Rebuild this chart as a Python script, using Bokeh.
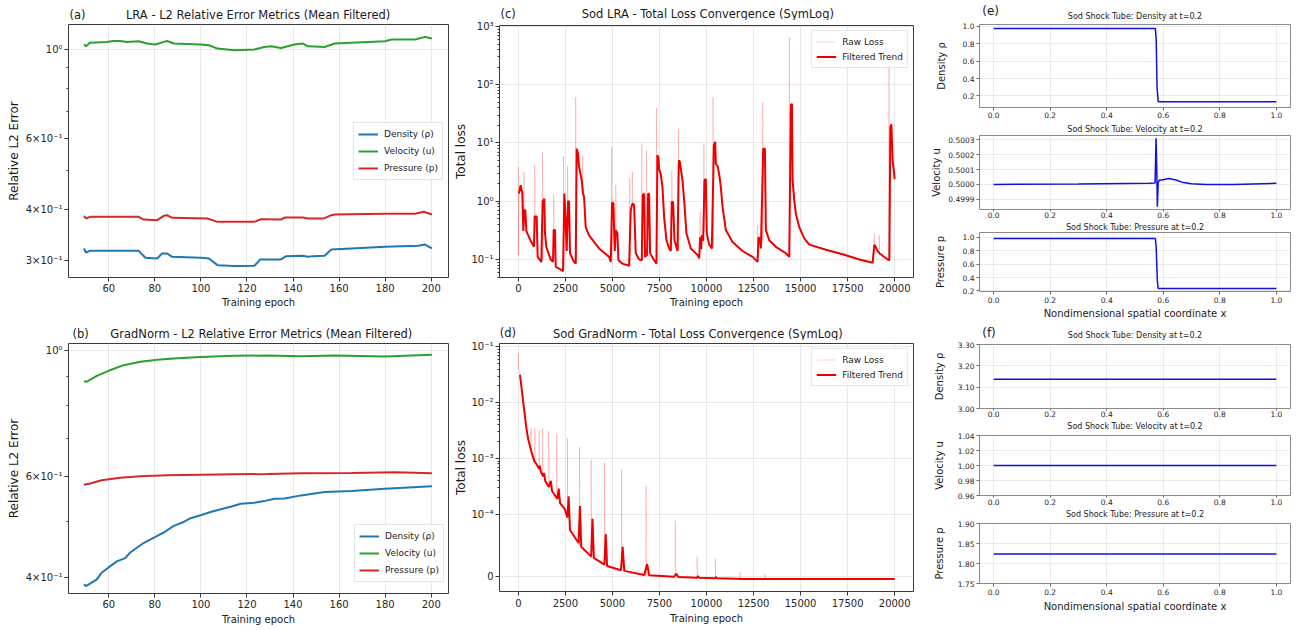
import numpy as np
from bokeh.plotting import figure
from bokeh.layouts import row, column
from bokeh.models import (Range1d, FixedTicker, Label, Legend, LegendItem,
                          CustomJSTickFormatter)
from bokeh.embed import file_html
from bokeh.resources import INLINE

FONT = "DejaVu Sans"

# ---------------- (a) LRA - relative L2 errors ----------------
a_rho_ep = [49.2, 50.1, 51.8, 60.0, 73.0, 75.9, 81.0, 83.1, 85.3, 87.5, 99.9, 103.5, 107.2, 114.4,
            123.2, 125.8, 134.8, 137.0, 144.3, 146.5, 148.6, 153.7, 156.6, 165.4, 179.9, 194.5, 197.1, 200.3]
a_rho = [0.3207, 0.3134, 0.3164, 0.3164, 0.3164, 0.3041, 0.3030, 0.3116, 0.3116, 0.3058, 0.3041, 0.3030,
         0.2916, 0.2900, 0.2905, 0.3013, 0.3013, 0.3070, 0.3076, 0.3058, 0.3070, 0.3076, 0.3189, 0.3207,
         0.3237, 0.3256, 0.3282, 0.3207]
a_u_ep = [49.2, 50.1, 51.8, 59.1, 62.0, 64.9, 67.9, 73.0, 76.6, 80.2, 83.9, 85.3, 88.2, 99.9, 103.5,
          107.2, 114.4, 123.2, 127.5, 130.4, 134.8, 140.6, 144.3, 146.5, 153.7, 158.1, 179.9, 182.8,
          193.0, 197.4, 200.3]
a_u = [1.029, 1.019, 1.039, 1.0446, 1.0505, 1.0505, 1.0446, 1.0486, 1.035, 1.029, 1.045, 1.05, 1.035,
       1.029, 1.025, 1.0057, 0.996, 1.0, 1.015, 1.019, 1.0093, 1.029, 1.035, 1.019, 1.015, 1.035,
       1.0486, 1.0588, 1.0588, 1.075, 1.065]
a_p_ep = [49.2, 50.1, 51.8, 73.0, 75.1, 81.0, 83.9, 85.3, 87.5, 102.8, 107.2, 123.2, 126.1, 134.8,
          136.3, 144.3, 146.5, 152.3, 153.7, 156.6, 158.1, 179.9, 193.0, 196.7, 200.3]
a_p = [0.3866, 0.3807, 0.3844, 0.3844, 0.3785, 0.377, 0.3866, 0.388, 0.3821, 0.3807, 0.3735, 0.3735,
       0.3792, 0.3785, 0.3828, 0.3828, 0.3807, 0.3807, 0.3814, 0.388, 0.3895, 0.391, 0.391, 0.3955, 0.3895]

# ---------------- (b) GradNorm - relative L2 errors ----------------
b_rho_ep = [49.2, 50.1, 54.8, 56.9, 59.9, 63.5, 67.1, 69.3, 75.1, 81.0, 83.9, 88.2, 91.9, 95.5, 99.9,
            104.2, 108.6, 112.9, 117.3, 123.2, 127.5, 131.9, 136.3, 143.5, 153.7, 165.4, 179.9, 200.3]
b_rho = [0.3889, 0.3858, 0.3966, 0.4073, 0.4161, 0.4263, 0.4321, 0.4420, 0.4592, 0.4726, 0.4791, 0.4922,
         0.4988, 0.5076, 0.5137, 0.5205, 0.5261, 0.5317, 0.5381, 0.5403, 0.5439, 0.5490, 0.5498, 0.5566,
         0.5642, 0.5664, 0.5719, 0.5774]
b_u_ep = [49.2, 50.7, 54.8, 59.9, 66.4, 73.7, 81.0, 88.2, 99.9, 114.4, 129.0, 143.5, 158.1, 179.9, 200.3]
b_u = [0.8816, 0.882, 0.9022, 0.9206, 0.9418, 0.9546, 0.9624, 0.9674, 0.9729, 0.978, 0.9792, 0.9768,
       0.9792, 0.9755, 0.982]
b_p_ep = [49.2, 51.8, 56.9, 64.9, 73.7, 85.3, 99.9, 114.4, 129.0, 143.5, 165.4, 184.3, 200.3]
b_p = [0.5808, 0.5838, 0.5916, 0.5979, 0.6011, 0.6035, 0.6051, 0.606, 0.6068, 0.6084, 0.6093, 0.6109, 0.6084]

# ---------------- (c) Sod LRA - total loss ----------------
c_ep = [35, 124, 213, 266, 319, 372, 426, 479, 656, 833, 869, 975, 1028, 1223, 1294, 1383, 1418, 1489,
        1720, 1844, 1879, 1950, 1986, 2163, 2376, 2447, 2500, 2571, 2642, 2695, 2748, 2961, 3050, 3103,
        3174, 3227, 3369, 3440, 3493, 3581, 3759, 4291, 4823, 4911, 4982, 5053, 5124, 5177, 5266, 5319,
        5532, 5886, 5975, 6064, 6152, 6241, 6418, 6560, 6613, 6684, 6737, 6844, 6897, 6950, 7003, 7216,
        7340, 7393, 7447, 7482, 7571, 7660, 7748, 7872, 8014, 8103, 8156, 8227, 8298, 8458, 8528, 8582,
        8653, 8723, 8812, 8936, 9166, 9521, 9610, 9663, 9716, 9752, 9822, 9893, 9964, 10017, 10142,
        10283, 10390, 10461, 10497, 10603, 10674, 10762, 10851, 11028, 11383, 11915, 12447, 12713,
        12766, 12837, 12890, 13014, 13103, 13156, 13333, 13688, 14220, 14397, 14486, 14539, 14574,
        14663, 14752, 14929, 15195, 15461, 16347, 17234, 18121, 18830, 18918, 19007, 19095, 19184,
        19628, 19716, 19769, 19822, 19893, 20000]
c_trend = [1.35, 1.88, 1.35, 0.31, 0.70, 0.70, 0.31, 0.28, 0.21, 0.165, 0.55, 0.55, 0.111, 0.091, 1.0,
           1.1, 0.28, 0.165, 0.10, 0.091, 0.32, 0.32, 0.075, 0.070, 0.063, 1.35, 0.6, 0.14, 0.99, 1.0,
           0.128, 0.091, 0.085, 8.0, 6.6, 3.9, 2.3, 1.35, 1.2, 0.36, 0.26, 0.155, 0.111, 0.091, 0.95,
           0.92, 0.14, 0.32, 0.28, 0.097, 0.085, 0.078, 0.7, 0.92, 0.86, 0.128, 0.10, 0.097, 1.27, 1.35,
           0.111, 0.12, 1.35, 1.35, 0.128, 0.097, 0.085, 6.2, 5.5, 3.6, 2.9, 1.76, 0.53, 0.214, 0.155,
           0.14, 0.99, 0.95, 0.214, 0.14, 5.0, 4.8, 3.3, 2.3, 1.04, 0.28, 0.155, 0.12, 0.105, 0.24, 0.15,
           0.26, 0.21, 2.3, 2.4, 0.28, 0.18, 0.155, 9.0, 10.5, 4.4, 3.9, 2.9, 1.76, 0.8, 0.32, 0.2, 0.14,
           0.111, 0.091, 0.24, 0.23, 0.155, 8.0, 8.0, 0.32, 0.214, 0.165, 0.128, 0.111, 45, 47, 2.3,
           1.04, 0.6, 0.36, 0.23, 0.18, 0.147, 0.123, 0.10, 0.088, 0.18, 0.16, 0.14, 0.128, 0.10, 0.097,
           18.8, 21, 5.0, 2.4]
c_spike_ep = [0, 300, 870, 1280, 1880, 2400, 2620, 3050, 3420, 4960, 5180, 5920, 6060, 6560, 6810,
              7340, 8156, 8510, 9660, 9860, 10350, 12710, 12990, 14400, 18918, 19184, 19700]
c_spike_peak = [3.9, 3.2, 4.2, 6.9, 1.3, 6.0, 4.0, 61, 6.1, 8.5, 1.9, 2.5, 3.2, 9.8, 7.5, 40, 3.4, 17.6,
                0.66, 9.8, 61, 0.39, 50, 656, 0.28, 0.26, 215]
c_spike_base = [0.12, 0.5, 0.3, 0.1, 0.3, 0.065, 0.5, 0.085, 1.3, 0.1, 0.3, 0.08, 0.9, 0.097, 0.12,
                0.085, 0.9, 0.14, 0.2, 0.3, 0.155, 0.091, 0.2, 0.111, 0.18, 0.128, 0.097]

# ---------------- (d) Sod GradNorm - total loss ----------------
d_ep = [88, 176, 264, 352, 440, 528, 704, 845, 968, 1109, 1144, 1197, 1320, 1373, 1426, 1619, 1725,
        1795, 2077, 2147, 2218, 2464, 2605, 2675, 2746, 3203, 3274, 3344, 3872, 3942, 4013, 4576, 4646,
        4717, 5456, 5544, 5632, 6688, 6846, 6952, 8272, 8395, 8501, 9504, 9539, 9610, 10472, 10507,
        10560, 11968, 15488, 20000]
d_trend = [0.0314, 0.018, 0.010, 0.0058, 0.0033, 0.0022, 0.0013, 0.00091, 0.00079, 0.00065, 0.00075,
           0.00058, 0.00048, 0.00055, 0.00040, 0.00031, 0.00040, 0.00026, 0.00019, 0.00029, 0.00016,
           0.000126, 9.5e-5, 0.00021, 7.5e-5, 5.4e-5, 0.000142, 4.8e-5, 3.2e-5, 9.3e-5, 3.0e-5, 1.9e-5,
           6.8e-5, 1.7e-5, 1.0e-5, 4.8e-5, 9e-6, 2.5e-6, 2.0e-5, 2e-6, -0.5e-6, 4.4e-6, -0.8e-6, -2e-6,
           0.5e-6, -2.2e-6, -2.8e-6, -1e-6, -3e-6, -3.9e-6, -4.2e-6, -4.2e-6]
d_spike_ep = [0, 669, 880, 1109, 1285, 1619, 2042, 2605, 3256, 3872, 4576, 5491, 6794, 8342, 9504,
              10472, 11792, 13112]
d_spike_peak = [0.076, 0.0035, 0.0035, 0.0031, 0.0035, 0.0031, 0.0027, 0.0023, 0.0016, 0.00096,
                0.00085, 0.00063, 0.00032, 9e-5, 3.2e-5, 2.9e-5, 7e-6, 4e-6]
d_spike_base = [0.04, 0.0015, 0.00091, 0.00065, 0.0005, 0.00031, 0.0002, 9.5e-5, 5.0e-5, 3.2e-5,
                1.9e-5, 1.0e-5, 2.2e-6, -0.5e-6, -2e-6, -2.8e-6, -3.8e-6, -4e-6]

# ---------------- (e) LRA solution profiles at t=0.2 ----------------
e_x_rho = [0.0, 0.572, 0.575, 0.578, 0.582, 1.0]
e_rho = [0.975, 0.975, 0.85, 0.30, 0.135, 0.133]
e_x_u = [0.0, 0.3, 0.55, 0.571, 0.5745, 0.577, 0.579, 0.582, 0.586, 0.595, 0.62, 0.645, 0.67, 0.70,
         0.75, 0.85, 1.0]
e_u = [0.50000, 0.500002, 0.500008, 0.50001, 0.50031, 0.50010, 0.49985, 0.50001, 0.50003, 0.50003,
       0.50004, 0.50003, 0.500012, 0.500005, 0.500000, 0.500000, 0.500007]
e_x_p = [0.0, 0.572, 0.575, 0.579, 0.582, 1.0]
e_p = [0.98, 0.98, 0.85, 0.35, 0.237, 0.237]

# ---------------- (f) GradNorm solution profiles at t=0.2 ----------------
f_x = [0.0, 1.0]
f_rho = [3.137, 3.137]
f_u = [1.0, 1.0]
f_p = [1.824, 1.824]

# ---------------- tick labels ----------------
x_ticks_ab = [60, 80, 100, 120, 140, 160, 180, 200]
x_ticks_cd = [0, 2500, 5000, 7500, 10000, 12500, 15000, 17500, 20000]
x_ticks_ef = [0.0, 0.2, 0.4, 0.6, 0.8, 1.0]


def symlog(v, lt=1e-4):
    v = np.asarray(v, dtype=float)
    a = np.abs(v)
    c = 1.0 / (1.0 - 0.1)
    return np.where(a <= lt, v / lt * c, np.sign(v) * (c + np.log10(np.maximum(a, lt) / lt)))


def raw_series(ep, tr, sep, spk, sbase, w):
    pts = list(zip(ep, tr))
    for e, pk, b in zip(sep, spk, sbase):
        pts += [(e - w, b), (e, pk), (e + w, b)]
    pts.sort()
    return [q[0] for q in pts], [q[1] for q in pts]


def fmt(ticks, labels):
    return CustomJSTickFormatter(args=dict(t=list(map(float, ticks)), l=list(labels)), code="""
        let best = ''; let bd = 1e99;
        for (let i = 0; i < t.length; i++) { const d = Math.abs(t[i] - tick); if (d < bd) { bd = d; best = l[i]; } }
        return bd <= 1e-6 * Math.max(1, Math.abs(tick)) ? best : '';
    """)


def header(w, h, texts):
    """A strip (no axes) holding the titles that sit above a panel; y counted from its top."""
    p = figure(width=w, height=h, x_range=Range1d(0, w), y_range=Range1d(h, 0),
               x_axis_location=None, y_axis_location=None, output_backend="svg",
               toolbar_location=None, min_border=0, min_border_left=0, min_border_right=0,
               min_border_top=0, min_border_bottom=0, frame_align=False)
    p.title = None
    p.outline_line_color = None
    p.background_fill_color = "white"
    p.border_fill_color = "white"
    for g in p.grid:
        g.visible = False
    for (x, y, text, size, align) in texts:
        p.add_layout(Label(x=x, y=y, text=text, text_font=FONT, text_font_size=size,
                           text_align=align, text_baseline="middle", text_color="#1a1a1a"))
    return p


def mkfig(w, h, bl, br, bt, bb, xr, yr, ylog=False, outline="#3a3a3a", tick_col="#333333",
          tick_size="10px", tick_out=4):
    p = figure(width=w, height=h, x_range=Range1d(*xr), y_range=Range1d(*yr),
               y_axis_type="log" if ylog else "linear",
               output_backend="svg", toolbar_location=None, frame_align=False,
               min_border_left=bl, min_border_right=br, min_border_top=bt, min_border_bottom=bb)
    p.title = None
    p.background_fill_color = "white"
    p.border_fill_color = "white"
    p.outline_line_color = outline
    p.outline_line_width = 1
    for ax in (p.xaxis[0], p.yaxis[0]):
        ax.axis_line_color = None
        ax.major_tick_in = 0
        ax.major_tick_out = tick_out
        ax.minor_tick_in = 0
        ax.minor_tick_out = 2
        ax.major_tick_line_color = tick_col
        ax.minor_tick_line_color = tick_col
        ax.major_label_text_font = FONT
        ax.major_label_text_font_size = tick_size
        ax.major_label_text_color = "#262626"
        ax.major_label_standoff = 2
        ax.axis_label_text_font = FONT
        ax.axis_label_text_font_style = "normal"
        ax.axis_label_text_color = "#1a1a1a"
    for g in (p.xgrid[0], p.ygrid[0]):
        g.grid_line_color = "#d9d9d9"
        g.grid_line_alpha = 0.6
        g.grid_line_width = 1
    return p


def set_ticks(ax, ticks, labels, minor=None):
    ax.ticker = FixedTicker(ticks=list(ticks), minor_ticks=list(minor) if minor else [])
    ax.formatter = fmt(ticks, labels)


def add_legend(p, items, loc, label_h=14, spacing=3):
    leg = Legend(items=items, location=loc, label_text_font=FONT, label_text_font_size="9px",
                 label_text_color="#222222", padding=4, spacing=spacing, margin=5,
                 glyph_width=20, glyph_height=label_h, label_height=label_h, label_standoff=6,
                 border_line_color="#cccccc", border_line_width=1,
                 background_fill_color="white", background_fill_alpha=0.85)
    p.add_layout(leg)


BLUE, GREEN, RED = "#1f77b4", "#2ca02c", "#d62728"
TS = "11.5px"

# ---------------- panel (a) ----------------
ha = header(451, 21, [(257.6, 14, "LRA - L2 Relative Error Metrics (Mean Filtered)", TS, "center"),
                      (69, 14, "(a)", TS, "left")])
pa = mkfig(451, 292, 68, 3, 3, 36, (42.5, 207.5), (0.2717, 1.154), ylog=True)
set_ticks(pa.xaxis[0], x_ticks_ab, [str(t) for t in x_ticks_ab])
set_ticks(pa.yaxis[0], [0.3, 0.4, 0.6, 1.0], ["3×10⁻¹", "4×10⁻¹", "6×10⁻¹", "10⁰"],
          minor=[0.5, 0.7, 0.8, 0.9])
pa.ygrid[0].ticker = FixedTicker(ticks=[1.0])
pa.xaxis[0].axis_label = "Training epoch"
pa.xaxis[0].axis_label_text_font_size = "10px"
pa.xaxis[0].axis_label_standoff = 2
pa.yaxis[0].axis_label = "Relative L2 Error"
pa.yaxis[0].axis_label_text_font_size = "12px"
pa.yaxis[0].axis_label_standoff = 2
ra1 = pa.line(a_rho_ep, a_rho, line_color=BLUE, line_width=2)
ra2 = pa.line(a_u_ep, a_u, line_color=GREEN, line_width=2)
ra3 = pa.line(a_p_ep, a_p, line_color=RED, line_width=2)
add_legend(pa, [LegendItem(label="Density (ρ)", renderers=[ra1]),
                LegendItem(label="Velocity (u)", renderers=[ra2]),
                LegendItem(label="Pressure (p)", renderers=[ra3])], "right")

# ---------------- panel (b) ----------------
hb = header(451, 28, [(260.8, 20.3, "GradNorm - L2 Relative Error Metrics (Mean Filtered)", TS, "center"),
                      (72, 20.3, "(b)", TS, "left")])
pb = mkfig(451, 289, 68, 3, 2, 37, (42.5, 207.5), (0.3745, 1.0279), ylog=True)
set_ticks(pb.xaxis[0], x_ticks_ab, [str(t) for t in x_ticks_ab])
set_ticks(pb.yaxis[0], [0.4, 0.6, 1.0], ["4×10⁻¹", "6×10⁻¹", "10⁰"], minor=[0.5, 0.7, 0.8, 0.9])
pb.ygrid[0].ticker = FixedTicker(ticks=[1.0])
pb.xaxis[0].axis_label = "Training epoch"
pb.xaxis[0].axis_label_text_font_size = "10px"
pb.xaxis[0].axis_label_standoff = 3
pb.yaxis[0].axis_label = "Relative L2 Error"
pb.yaxis[0].axis_label_text_font_size = "12px"
pb.yaxis[0].axis_label_standoff = 2
rb1 = pb.line(b_rho_ep, b_rho, line_color=BLUE, line_width=2)
rb2 = pb.line(b_u_ep, b_u, line_color=GREEN, line_width=2)
rb3 = pb.line(b_p_ep, b_p, line_color=RED, line_width=2)
add_legend(pb, [LegendItem(label="Density (ρ)", renderers=[rb1]),
                LegendItem(label="Velocity (u)", renderers=[rb2]),
                LegendItem(label="Pressure (p)", renderers=[rb3])], (286, 11))

# ---------------- panel (c) ----------------
hc = header(474, 20, [(256.3, 13.3, "Sod LRA - Total Loss Convergence (SymLog)", TS, "center"),
                      (49, 13.3, "(c)", TS, "left")])
pc = mkfig(474, 293, 45, 12, 5, 36, (-1000, 21000), (0.0491, 1040), ylog=True)
set_ticks(pc.xaxis[0], x_ticks_cd, [str(t) for t in x_ticks_cd])
c_minor = [m * 10.0 ** k for k in range(-2, 3) for m in range(2, 10)]
set_ticks(pc.yaxis[0], [0.1, 1, 10, 100, 1000], ["10⁻¹", "10⁰", "10¹", "10²", "10³"], minor=c_minor)
pc.xaxis[0].axis_label = "Training epoch"
pc.xaxis[0].axis_label_text_font_size = "10px"
pc.xaxis[0].axis_label_standoff = 2
pc.yaxis[0].axis_label = "Total loss"
pc.yaxis[0].axis_label_text_font_size = "12px"
pc.yaxis[0].axis_label_standoff = 0
c_raw_x, c_raw_y = raw_series(c_ep, c_trend, c_spike_ep, c_spike_peak, c_spike_base, 15)
rc1 = pc.line(c_raw_x, c_raw_y, line_color="red", line_alpha=0.18, line_width=1)
rc2 = pc.line(c_ep, c_trend, line_color="#ee0000", line_width=2)
add_legend(pc, [LegendItem(label="Raw Loss", renderers=[rc1]),
                LegendItem(label="Filtered Trend", renderers=[rc2])], "top_right", label_h=13, spacing=2)

# ---------------- panel (d) ----------------
hd = header(474, 27, [(246.3, 20.3, "Sod GradNorm - Total Loss Convergence (SymLog)", TS, "center"),
                      (48.3, 19.0, "(d)", TS, "left")])
pd_ = mkfig(474, 290, 45, 12, 3, 39, (-1000, 21000), (-0.269, 4.172))
set_ticks(pd_.xaxis[0], x_ticks_cd, [str(t) for t in x_ticks_cd])
d_major_vals = [0.0, 1e-4, 1e-3, 1e-2, 1e-1]
d_major = [float(v) for v in symlog(d_major_vals)]
d_minor = [float(v) for v in symlog([m * 10.0 ** k for k in range(-4, -1) for m in range(2, 10)])]
set_ticks(pd_.yaxis[0], d_major, ["0", "10⁻⁴", "10⁻³", "10⁻²", "10⁻¹"], minor=d_minor)
pd_.ygrid[0].ticker = FixedTicker(ticks=d_major)
pd_.xaxis[0].axis_label = "Training epoch"
pd_.xaxis[0].axis_label_text_font_size = "10px"
pd_.xaxis[0].axis_label_standoff = 3
pd_.xaxis[0].major_label_standoff = 3
pd_.yaxis[0].axis_label = "Total loss"
pd_.yaxis[0].axis_label_text_font_size = "12px"
pd_.yaxis[0].axis_label_standoff = 0
d_raw_x, d_raw_y = raw_series(d_ep, d_trend, d_spike_ep, d_spike_peak, d_spike_base, 15)
rd1 = pd_.line(d_raw_x, symlog(d_raw_y), line_color="red", line_alpha=0.18, line_width=1)
rd2 = pd_.line(d_ep, symlog(d_trend), line_color="#ee0000", line_width=2)
add_legend(pd_, [LegendItem(label="Raw Loss", renderers=[rd1]),
                 LegendItem(label="Filtered Trend", renderers=[rd2])], "top_right", label_h=13, spacing=2)


# ---------------- panels (e) / (f) ----------------
def small(h, bt, bb, yr, yticks, ylabels, ylab, ystand, xtick_out, xstand):
    p = mkfig(376, h, 54, 11, bt, bb, (-0.05, 1.05), yr, outline="#8a8a8a", tick_col="#666666",
              tick_size="7.5px", tick_out=3)
    set_ticks(p.xaxis[0], x_ticks_ef, ["%.1f" % t for t in x_ticks_ef])
    set_ticks(p.yaxis[0], yticks, ylabels)
    p.xaxis[0].major_tick_out = xtick_out
    p.xaxis[0].major_label_standoff = xstand
    p.yaxis[0].major_label_standoff = 2
    p.yaxis[0].axis_label = ylab
    p.yaxis[0].axis_label_text_font_size = "10px"
    p.yaxis[0].axis_label_standoff = ystand
    for g in (p.xgrid[0], p.ygrid[0]):
        g.grid_line_color = "#e3e3e3"
        g.grid_line_alpha = 0.7
    return p


SS = "8px"
BL = "#1010e0"
XLAB = "Nondimensional spatial coordinate x"

# column 3 canvases (top..bottom): he1 0-21, e1 21-121, he2 121-134, e2 134-220, he3 220-231,
# e3 231-321, hf1 321-340, f1 340-419, hf2 419-430, f2 430-507, hf3 507-518, f3 518-630
he1 = header(376, 21, [(56.7, 10, "(e)", "12px", "left"),
                       (209.5, 15.5, "Sod Shock Tube: Density at t=0.2", SS, "center")])
e1 = small(100, 3, 14, (0.068, 1.02), [0.2, 0.4, 0.6, 0.8, 1.0], ["0.2", "0.4", "0.6", "0.8", "1.0"],
           "Density ρ", 13, 3, 1)
e1.line(e_x_rho, e_rho, line_color=BL, line_width=1.5)

he2 = header(376, 13, [(209.5, 7.5, "Sod Shock Tube: Velocity at t=0.2", SS, "center")])
e2 = small(86, 1, 11, (0.499831, 0.500329), [0.4999, 0.5, 0.5001, 0.5002, 0.5003],
           ["0.4999", "0.5000", "0.5001", "0.5002", "0.5003"], "Velocity u", 3, 2, 0)
e2.line(e_x_u, e_u, line_color=BL, line_width=1.5)

he3 = header(376, 11, [(209.5, 5.5, "Sod Shock Tube: Pressure at t=0.2", SS, "center")])
e3 = small(90, 1, 28, (0.192, 1.07), [0.2, 0.4, 0.6, 0.8, 1.0], ["0.2", "0.4", "0.6", "0.8", "1.0"],
           "Pressure p", 14, 3, 2)
e3.line(e_x_p, e_p, line_color=BL, line_width=1.5)
e3.xaxis[0].axis_label = XLAB
e3.xaxis[0].axis_label_text_font_size = "10px"
e3.xaxis[0].axis_label_standoff = 2

hf1 = header(376, 19, [(56.7, 11.5, "(f)", "12px", "left"),
                       (209.5, 13.5, "Sod Shock Tube: Density at t=0.2", SS, "center")])
f1 = small(79, 4, 11, (3.0, 3.3), [3.0, 3.1, 3.2, 3.3], ["3.00", "3.10", "3.20", "3.30"],
           "Density ρ", 10, 2, 0)
f1.line(f_x, f_rho, line_color=BL, line_width=1.5)

hf2 = header(376, 11, [(209.5, 5.5, "Sod Shock Tube: Velocity at t=0.2", SS, "center")])
f2 = small(77, 5, 12, (0.96, 1.04), [0.96, 0.98, 1.0, 1.02, 1.04], ["0.96", "0.98", "1.00", "1.02", "1.04"],
           "Velocity u", 10, 2, 1)
f2.line(f_x, f_u, line_color=BL, line_width=1.5)

hf3 = header(376, 11, [(209.5, 5.5, "Sod Shock Tube: Pressure at t=0.2", SS, "center")])
f3 = small(112, 5, 47, (1.75, 1.90), [1.75, 1.80, 1.85, 1.90], ["1.75", "1.80", "1.85", "1.90"],
           "Pressure p", 10, 3, 2)
f3.line(f_x, f_p, line_color=BL, line_width=1.5)
f3.xaxis[0].axis_label = XLAB
f3.xaxis[0].axis_label_text_font_size = "10px"
f3.xaxis[0].axis_label_standoff = 3

layout = row(column(ha, pa, hb, pb),
             column(hc, pc, hd, pd_),
             column(he1, e1, he2, e2, he3, e3, hf1, f1, hf2, f2, hf3, f3))
open("out.html", "w").write(file_html(layout, INLINE))
